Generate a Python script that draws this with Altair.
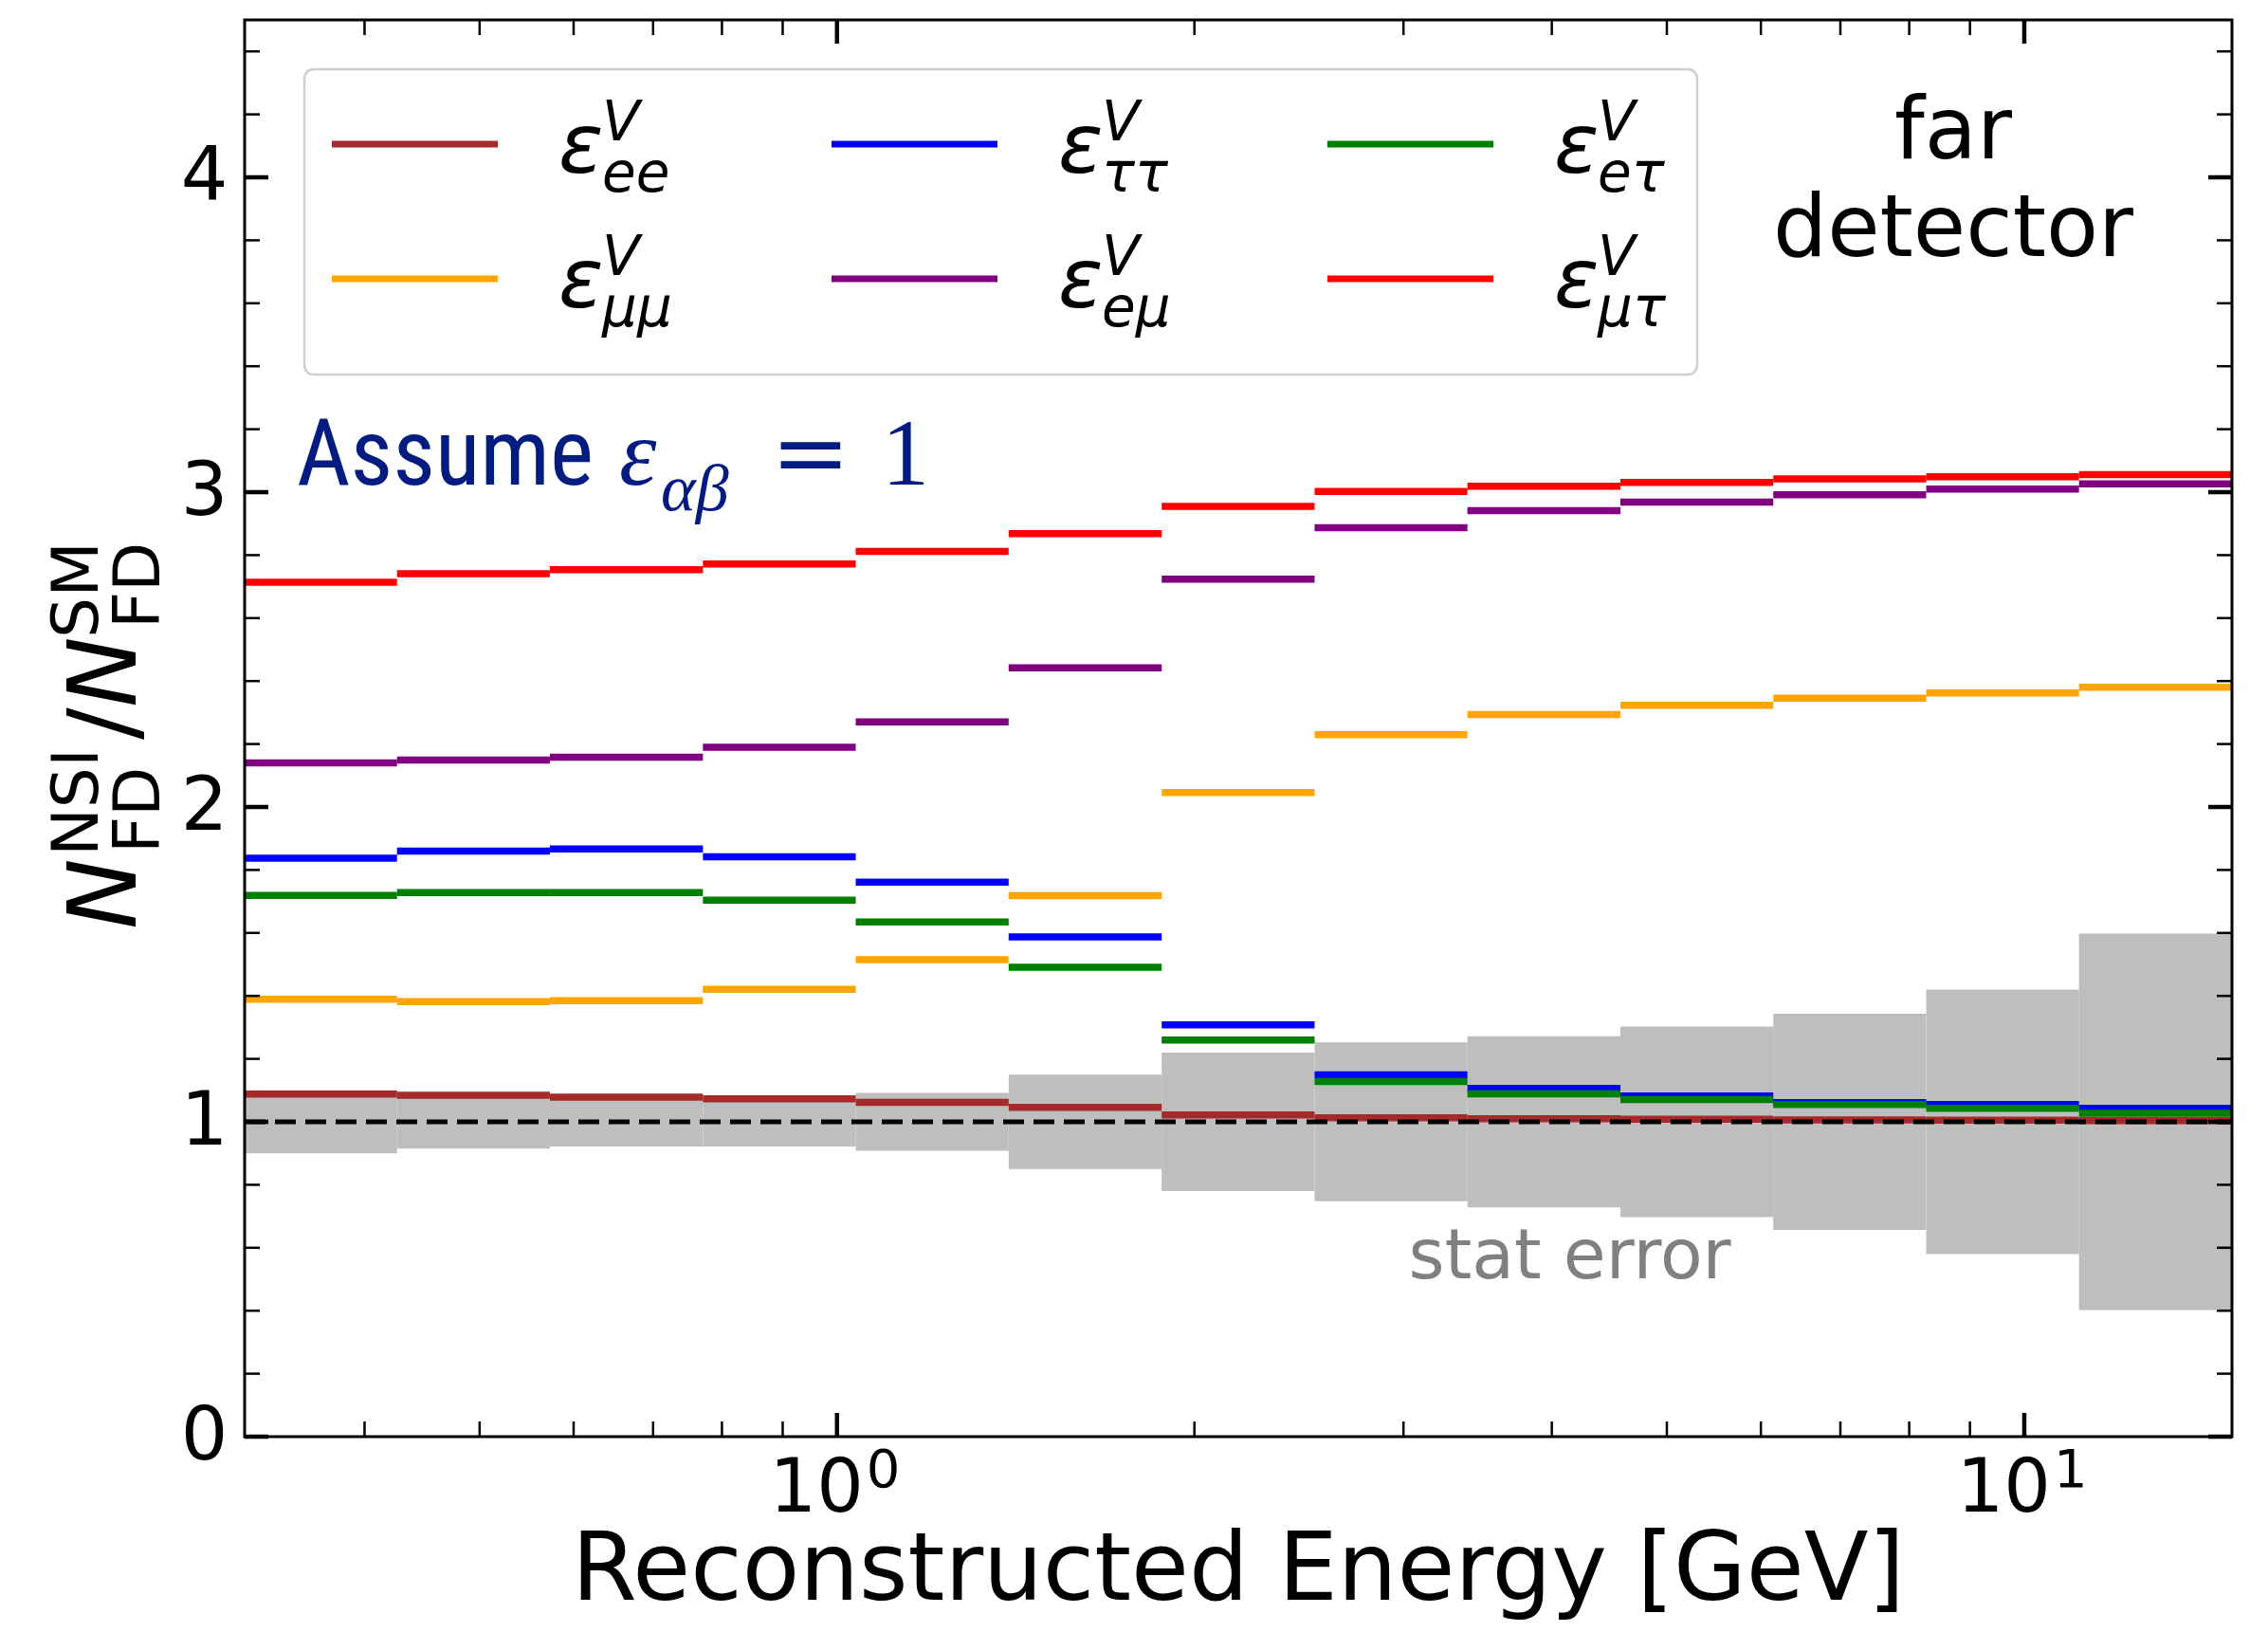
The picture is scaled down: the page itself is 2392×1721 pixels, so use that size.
import altair as alt
import pandas as pd

# ---------------- data ----------------
bin_edges = [0.317, 0.426, 0.573, 0.771, 1.037, 1.395, 1.877, 2.525,
             3.396, 4.569, 6.146, 8.268, 11.12, 14.96]
stat_error = [0.100, 0.085, 0.078, 0.078, 0.092, 0.150, 0.220, 0.252,
              0.272, 0.303, 0.343, 0.420, 0.598]

eps_ee = [1.088, 1.084, 1.078, 1.073, 1.062, 1.046, 1.022, 1.013, 1.010, 1.008, 1.006, 1.005, 1.004]
eps_mumu = [1.389, 1.382, 1.385, 1.421, 1.515, 1.718, 2.046, 2.230, 2.294, 2.323, 2.346, 2.362, 2.380]
eps_tautau = [1.837, 1.860, 1.867, 1.842, 1.761, 1.587, 1.308, 1.149, 1.106, 1.082, 1.061, 1.055, 1.043]
eps_emu = [2.140, 2.149, 2.158, 2.190, 2.270, 2.442, 2.724, 2.887, 2.941, 2.968, 2.992, 3.010, 3.026]
eps_etau = [1.719, 1.728, 1.728, 1.704, 1.635, 1.491, 1.260, 1.128, 1.089, 1.071, 1.055, 1.043, 1.027]
eps_mutau = [2.714, 2.741, 2.754, 2.772, 2.812, 2.868, 2.955, 3.002, 3.019, 3.031, 3.042, 3.049, 3.056]

series_keys = ["ee", "mumu", "tautau", "emu", "etau", "mutau"]
series_subs = ["ee", "μμ", "ττ", "eμ", "eτ", "μτ"]
series_colors = ["#a52a2a", "#ffa500", "#0000ff", "#800080", "#008000", "#ff0000"]
series_values = [eps_ee, eps_mumu, eps_tautau, eps_emu, eps_etau, eps_mutau]

reference_level = [1.0]
y_major = [0, 1, 2, 3, 4]
y_minor = [0.2, 0.4, 0.6, 0.8, 1.2, 1.4, 1.6, 1.8, 2.2, 2.4, 2.6, 2.8,
           3.2, 3.4, 3.6, 3.8, 4.2, 4.4]
x_major = [1, 10]
x_major_base = ["10", "10"]
x_major_exp = ["0", "1"]
x_minor = [0.4, 0.5, 0.6, 0.7, 0.8, 0.9, 2, 3, 4, 5, 6, 7, 8, 9]

# ---------------- layout ----------------
W, H = 2096, 1494
xscale = alt.Scale(type="log", domain=[bin_edges[0], bin_edges[-1]], nice=False)
yscale = alt.Scale(domain=[0, 4.5], nice=False)

band_df = pd.DataFrame({
    "lo": bin_edges[:-1], "hi": bin_edges[1:],
    "lower": [1 - e for e in stat_error], "upper": [1 + e for e in stat_error],
})

rows = []
for key, vals in zip(series_keys, series_values):
    for i, v in enumerate(vals):
        rows.append({"series": key, "lo": bin_edges[i], "hi": bin_edges[i + 1], "ratio": v})
series_df = pd.DataFrame(rows)

one = pd.DataFrame({"k": [0]})

xaxis = alt.Axis(values=x_major, labels=False, ticks=False, tickSize=0, domain=False,
                 grid=False, title=None)
yaxis = alt.Axis(values=y_major, format="d", labelFont="DejaVu Sans", labelFontSize=78,
                 labelColor="black", labelPadding=18, ticks=False, tickSize=0,
                 domain=False, grid=False, title=None)


def X(field):
    return alt.X(field, scale=xscale, axis=xaxis)


def Y(field):
    return alt.Y(field, scale=yscale, axis=yaxis)


band = alt.Chart(band_df).mark_rect(color="#bebebe").encode(
    x=X("lo:Q"), x2="hi:Q", y=Y("lower:Q"), y2="upper:Q",
)

lines = alt.Chart(series_df).mark_rule(strokeWidth=7.5).encode(
    x=X("lo:Q"), x2="hi:Q", y=Y("ratio:Q"),
    color=alt.Color("series:N", scale=alt.Scale(domain=series_keys, range=series_colors), legend=None),
)

dashed = alt.Chart(pd.DataFrame({"r": reference_level})).mark_rule(
    color="black", strokeWidth=5, strokeDash=[22, 10]).encode(
    y=Y("r:Q"), x=alt.value(0), x2=alt.value(W))


def yticks(vals, length, width):
    df = pd.DataFrame({"v": vals})
    left = alt.Chart(df).mark_rule(color="black", strokeWidth=width).encode(
        y=Y("v:Q"), x=alt.value(0), x2=alt.value(length))
    right = alt.Chart(df).mark_rule(color="black", strokeWidth=width).encode(
        y=Y("v:Q"), x=alt.value(W - length), x2=alt.value(W))
    return [left, right]


def xticks(vals, length, width):
    df = pd.DataFrame({"v": vals})
    bottom = alt.Chart(df).mark_rule(color="black", strokeWidth=width).encode(
        x=X("v:Q"), y=alt.value(H - length), y2=alt.value(H))
    top = alt.Chart(df).mark_rule(color="black", strokeWidth=width).encode(
        x=X("v:Q"), y=alt.value(0), y2=alt.value(length))
    return [bottom, top]


tick_layers = yticks(y_major, 25, 4.5) + yticks(y_minor, 16, 2.5) + \
    xticks(x_major, 25, 4.5) + xticks(x_minor, 16, 2.5)

# x tick labels as 10^n with a real superscript
xlab_df = pd.DataFrame({"v": x_major, "base": x_major_base, "exp": x_major_exp})
xlab_base = alt.Chart(xlab_df).mark_text(
    align="right", baseline="alphabetic", font="DejaVu Sans", fontSize=78, color="black", dx=28).encode(
    x=X("v:Q"), y=alt.value(H + 79), text="base:N")
xlab_exp = alt.Chart(xlab_df).mark_text(
    align="left", baseline="alphabetic", font="DejaVu Sans", fontSize=56, color="black", dx=31).encode(
    x=X("v:Q"), y=alt.value(H + 53), text="exp:N")

frame = alt.Chart(one).mark_rect(fillOpacity=0, stroke="black", strokeWidth=3).encode(
    x=alt.value(0), x2=alt.value(W), y=alt.value(0), y2=alt.value(H))


def txt(text, x, y, size, font="DejaVu Sans", style="normal", color="black",
        align="left", angle=0, baseline="alphabetic"):
    kw = dict(text=text, font=font, fontSize=size, fontStyle=style, color=color,
              align=align, baseline=baseline)
    if angle:
        kw["angle"] = angle
    return alt.Chart(one).mark_text(**kw).encode(x=alt.value(x), y=alt.value(y))


# legend
legend_box = alt.Chart(one).mark_rect(fill="white", fillOpacity=0.8, stroke="#cfcfcf",
                                      strokeWidth=2.5, cornerRadius=10).encode(
    x=alt.value(63), x2=alt.value(1532), y=alt.value(52), y2=alt.value(374))

legend_layers = [legend_box]
col_x = [92, 619, 1142]
row_y = [131, 273]
for idx, (sub, col) in enumerate(zip(series_subs, series_colors)):
    c, r = idx // 2, idx % 2
    x0 = col_x[c]
    x1 = x0 + 175
    y0 = row_y[r]
    legend_layers.append(
        alt.Chart(one).mark_rule(color=col, strokeWidth=7).encode(
            x=alt.value(x0), x2=alt.value(x1), y=alt.value(y0)))
    ex = x1 + 64
    legend_layers.append(txt("ε", ex, y0 + 30, 88, style="italic"))
    legend_layers.append(txt("V", ex + 46, y0 - 4, 58, style="italic"))
    legend_layers.append(txt(sub, ex + 46, y0 + 50, 58, style="italic"))

# annotations
navy = "#001c80"
annot = [
    txt("Assume", 55, 490, 98, font="Liberation Sans Narrow, Roboto Condensed, Liberation Sans", color=navy),
    txt("ε", 395, 490, 100, font="Liberation Serif", style="italic", color=navy),
    txt("αβ", 439, 517, 70, font="Liberation Serif", style="italic", color=navy),
    txt("=", 597, 490, 100, font="DejaVu Serif", color=navy, align="center"),
    txt("1", 697, 490, 100, font="Liberation Serif", color=navy, align="center"),
    txt("far", 1802, 146, 90, align="center"),
    txt("detector", 1802, 249, 90, align="center"),
    txt("Reconstructed Energy [GeV]", W / 2, H + 172, 99, align="center"),
    # y-axis title  N_FD^NSI / N_FD^SM
    txt("N", -115, 959, 100, style="italic", angle=270),
    txt("NSI", -155, 882, 68, angle=270),
    txt("FD", -90, 879, 68, angle=270),
    txt("/", -115, 759, 100, angle=270),
    txt("N", -115, 725, 100, style="italic", angle=270),
    txt("SM", -155, 652, 68, angle=270),
    txt("FD", -90, 642, 68, angle=270),
]

stat_label = alt.Chart(pd.DataFrame({"x": [3.03], "y": [0.503], "t": ["stat error"]})).mark_text(
    align="left", baseline="alphabetic", fontSize=73, font="DejaVu Sans", color="#808080").encode(
    x=X("x:Q"), y=Y("y:Q"), text="t:N")

chart = alt.layer(
    band, stat_label, lines, dashed, *tick_layers, xlab_base, xlab_exp, frame,
    *legend_layers, *annot
).properties(
    width=W, height=H,
    padding={"left": 250, "top": 13, "right": 28, "bottom": 198},
    autosize=alt.AutoSizeParams(type="none"),
).configure_view(strokeWidth=0)

chart.save("out.html", embed_options={"renderer": "svg", "actions": False})
